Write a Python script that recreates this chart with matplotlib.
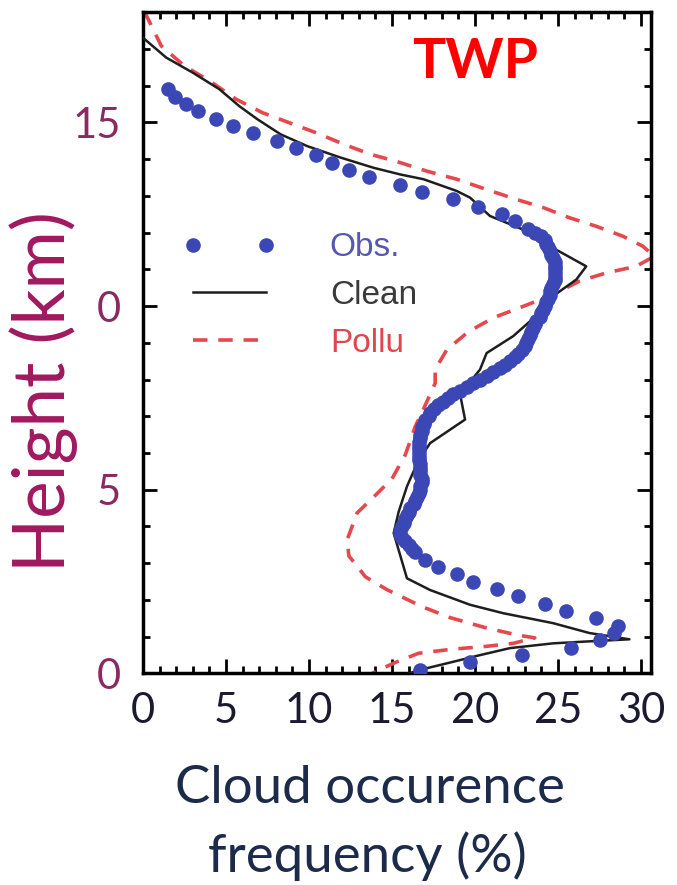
import matplotlib
matplotlib.use('Agg')
import matplotlib.pyplot as plt
from matplotlib.ticker import MultipleLocator, FixedLocator, FixedFormatter

# Observed cloud occurrence (%) at each height (km)
obs_height = [0.1, 0.3, 0.5, 0.7, 0.9, 1.1, 1.3, 1.5, 1.7, 1.9,
              2.1, 2.3, 2.5, 2.7, 2.9, 3.1,
              3.3, 3.4, 3.5, 3.6, 3.7, 3.8, 3.9, 4.0, 4.1, 4.2,
              4.3, 4.4, 4.5, 4.6, 4.7, 4.8, 4.9, 5.0, 5.1, 5.2,
              5.3, 5.4, 5.5, 5.6, 5.7, 5.8, 5.9, 6.0, 6.1, 6.2,
              6.3, 6.4, 6.5, 6.6, 6.7, 6.8, 6.9, 7.0, 7.1, 7.2,
              7.3, 7.4, 7.5, 7.6, 7.7, 7.8, 7.9, 8.0, 8.1, 8.2,
              8.3, 8.4, 8.5, 8.6, 8.7, 8.8, 8.9, 9.0, 9.1, 9.2,
              9.3, 9.4, 9.5, 9.6, 9.7, 9.8, 9.9, 10.0, 10.1, 10.2,
              10.3, 10.4, 10.5, 10.6, 10.7, 10.8, 10.9, 11.0, 11.1, 11.2,
              11.3, 11.4, 11.5, 11.6, 11.7, 11.8, 11.9, 12.0, 12.1,
              12.3, 12.5, 12.7, 12.9, 13.1, 13.3, 13.5, 13.7, 13.9,
              14.1, 14.3, 14.5, 14.7, 14.9, 15.1, 15.3, 15.5, 15.7, 15.9]
obs_freq = [16.7, 19.7, 22.8, 25.8, 27.5, 28.4, 28.6, 27.3, 25.5, 24.2,
            22.6, 21.3, 19.9, 18.9, 17.8, 17.0,
            16.4, 16.2, 16.0, 15.8, 15.6, 15.5, 15.5, 15.6, 15.7, 15.8,
            15.9, 16.0, 16.1, 16.3, 16.4, 16.5, 16.6, 16.7, 16.7, 16.8,
            16.8, 16.7, 16.7, 16.7, 16.7, 16.6, 16.6, 16.6, 16.6, 16.6,
            16.6, 16.7, 16.7, 16.8, 16.8, 16.9, 17.0, 17.2, 17.3, 17.5,
            17.8, 18.1, 18.4, 18.7, 19.1, 19.5, 19.9, 20.3, 20.7, 21.1,
            21.5, 21.8, 22.1, 22.4, 22.6, 22.8, 23.0, 23.1, 23.2, 23.3,
            23.4, 23.5, 23.6, 23.7, 23.9, 24.0, 24.1, 24.2, 24.3, 24.4,
            24.5, 24.5, 24.6, 24.7, 24.8, 24.8, 24.8, 24.8, 24.8, 24.8,
            24.7, 24.6, 24.5, 24.4, 24.3, 24.2, 24.0, 23.6, 23.2,
            22.4, 21.6, 20.2, 18.7, 16.8, 15.5, 13.6, 12.4, 11.4,
            10.4, 9.2, 8.1, 6.6, 5.4, 4.4, 3.3, 2.6, 1.9, 1.5]

# Clean run (top to bottom)
clean_freq = [0.0, 1.4, 3.0, 4.6, 5.8, 6.9, 8.3, 9.9, 11.9, 13.9,
              15.5, 16.9, 18.9, 19.7, 20.9, 22.9, 24.5, 26.7, 26.1, 24.7,
              23.6, 22.3, 20.7, 20.3, 19.1, 19.4, 17.3, 16.6, 16.2, 15.9,
              15.4, 15.1, 15.9, 17.3, 19.7, 21.7, 24.7, 26.9, 29.3, 26.7,
              24.7, 22.1, 20.3, 18.7, 16.7, 16.0]
clean_height = [17.3, 16.76, 16.35, 15.9, 15.44, 15.08, 14.67, 14.35, 14.04, 13.76,
                13.58, 13.45, 13.13, 12.95, 12.45, 12.08, 11.63, 11.08, 10.72, 10.27,
                9.7, 9.18, 8.72, 8.27, 7.6, 6.91, 6.27, 5.8, 5.4, 5.09,
                4.4, 3.82, 2.59, 2.27, 1.87, 1.64, 1.37, 1.1, 0.93, 0.87,
                0.82, 0.69, 0.5, 0.32, 0.1, 0.0]

# Polluted run (top to bottom)
pollu_freq = [0.1, 1.1, 2.5, 4.0, 5.6, 7.2, 8.8, 10.4, 12.1, 13.7,
              15.3, 17.1, 18.9, 20.7, 22.5, 24.1, 25.7, 27.3, 28.9, 30.1,
              30.8, 29.7, 27.9, 26.3, 24.7, 22.9, 21.1, 19.6, 18.3, 17.6,
              17.6, 16.9, 16.4, 15.8, 15.0, 14.0, 12.9, 12.3, 12.4, 13.4,
              14.7, 16.8, 18.5, 20.6, 22.5, 23.6, 22.3, 20.5, 18.6, 16.6,
              15.3, 14.0, 13.8]
pollu_height = [18.0, 17.08, 16.53, 16.13, 15.63, 15.26, 14.99, 14.72, 14.4, 14.13,
                13.93, 13.67, 13.45, 13.17, 12.9, 12.68, 12.4, 12.17, 11.9, 11.63,
                11.35, 11.08, 10.9, 10.68, 10.31, 9.99, 9.68, 9.3, 8.81, 8.27,
                7.9, 7.2, 6.72, 5.95, 5.3, 4.85, 4.37, 3.64, 3.2, 2.63,
                2.28, 1.82, 1.52, 1.25, 1.05, 0.97, 0.82, 0.73, 0.66, 0.55,
                0.32, 0.05, 0.0]

x_ticks = [0, 5, 10, 15, 20, 25, 30]
y_ticks = [0, 5, 10, 15]
y_tick_labels = ['0', '5', '0', '15']

fig = plt.figure(figsize=(6.77, 8.85), dpi=100)
ax = fig.add_axes([0.2112, 0.2390, 0.7504, 0.7474])

ax.plot(pollu_freq, pollu_height, color='#e5484d', lw=2.6, dashes=(4, 3),
        label='Pollu', zorder=2)
ax.plot(clean_freq, clean_height, color='#1e1e1e', lw=1.8, label='Clean', zorder=3)
ax.plot(obs_freq, obs_height, linestyle='none', marker='o', ms=10.5, mew=0,
        color='#3a47b5', label='Obs.', zorder=4)

ax.set_xlim(0, 30.6)
ax.set_ylim(0, 18)

ax.xaxis.set_major_locator(FixedLocator(x_ticks))
ax.xaxis.set_minor_locator(MultipleLocator(1))
ax.yaxis.set_major_locator(FixedLocator(y_ticks))
ax.yaxis.set_major_formatter(FixedFormatter(y_tick_labels))
ax.yaxis.set_minor_locator(MultipleLocator(1))

ax.tick_params(which='both', direction='in', top=True, right=True, width=2)
ax.tick_params(which='major', length=10)
ax.tick_params(which='minor', length=5)
ax.tick_params(axis='x', which='major', pad=13, labelsize=30, labelcolor='#1b1b2f')
ax.tick_params(axis='y', which='major', pad=16, labelsize=30, labelcolor='#8a2a62')
for lab in ax.get_xticklabels() + ax.get_yticklabels():
    lab.set_family('Lato')
for sp in ax.spines.values():
    sp.set_linewidth(2.5)

order = [2, 1, 0]
h, l = ax.get_legend_handles_labels()
leg = ax.legend([h[i] for i in order], [l[i] for i in order],
                loc='upper left', bbox_to_anchor=(0.079, 0.667),
                frameon=False, borderpad=0, borderaxespad=0,
                prop={'family': 'Liberation Sans', 'size': 24},
                handlelength=2.8, handletextpad=1.6, labelspacing=0.5,
                numpoints=2)
for txt, c in zip(leg.get_texts(), ['#5558b0', '#3a3a3a', '#e0474c']):
    txt.set_color(c)

fig.text(0.7016, 0.930, 'TWP', color='#ff0000', fontsize=40,
         fontweight='bold', family='Lato', ha='center', va='center')
fig.text(0.064, 0.558, 'Height (km)', color='#a0195f', fontsize=51,
         family='Lato', rotation=90, ha='center', va='center')
fig.text(0.5465, 0.0927, 'Cloud occurence', color='#1d2b4a',
         fontsize=38, family='Lato', ha='center', va='baseline')
fig.text(0.542, 0.0147, 'frequency (%)', color='#1d2b4a',
         fontsize=38, family='Lato', ha='center', va='baseline')

fig.savefig('out.png', dpi=100)
